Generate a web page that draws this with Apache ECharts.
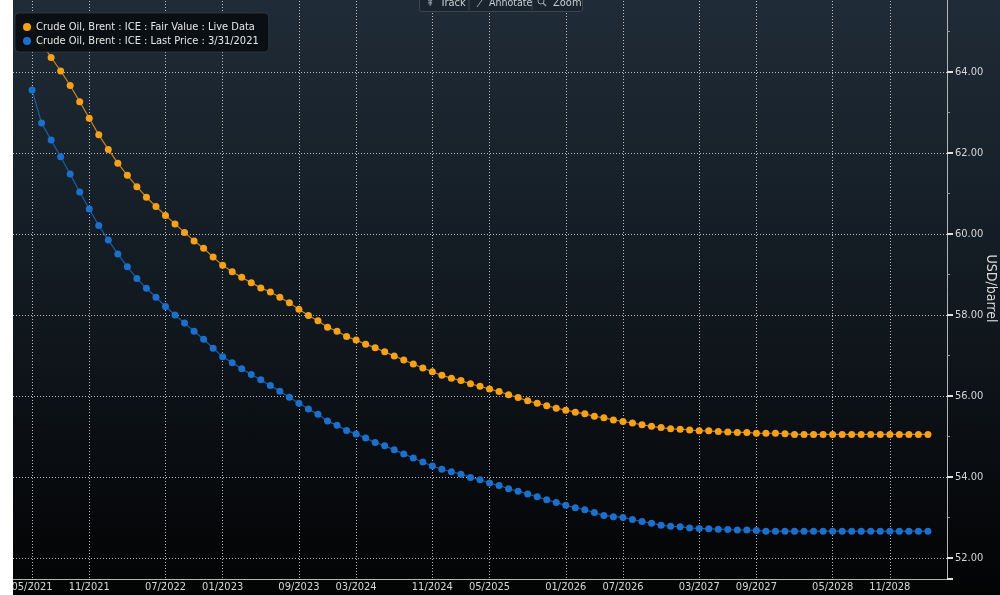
<!DOCTYPE html>
<html>
<head>
<meta charset="utf-8">
<script src="https://cdn.jsdelivr.net/npm/echarts@6/dist/echarts.min.js"></script>
<style>
  html, body { margin: 0; padding: 0; background: #ffffff; width: 1000px; height: 595px; overflow: hidden; }
  #chart { position: absolute; left: 13px; top: 0; width: 987px; height: 595px;
    background: linear-gradient(to bottom, #1f2b36 0%, #17212a 30%, #0f151b 60%, #07090c 85%, #020303 100%); }
</style>
</head>
<body>
<div id="chart"></div>
<script>
// X categories: monthly contract months from 03/2021 to 05/2029
const firstMonth = { m: 3, y: 2021 };
const monthCount = 99;
const months = [];
for (let i = 0; i < monthCount; i++) {
  const t = firstMonth.m - 1 + i;
  const mm = (t % 12) + 1;
  const yy = firstMonth.y + Math.floor(t / 12);
  months.push((mm < 10 ? '0' : '') + mm + '/' + yy);
}

// Bottom tick labels shown
const tickLabels = ['05/2021','11/2021','07/2022','01/2023','09/2023','03/2024','11/2024',
  '05/2025','01/2026','07/2026','03/2027','09/2027','05/2028','11/2028'];

// Series: contract months 05/2021 .. 03/2029
const seriesStart = '05/2021';
const seriesNames = ['Crude Oil, Brent : ICE : Fair Value : Live Data',
                     'Crude Oil, Brent : ICE : Last Price : 3/31/2021'];

const fairValue = [
  65.08, 64.72, 64.36, 64.03, 63.67, 63.27, 62.86, 62.45, 62.09, 61.75,
  61.45, 61.17, 60.91, 60.68, 60.46, 60.25, 60.04, 59.83, 59.65, 59.43,
  59.23, 59.07, 58.93, 58.80, 58.67, 58.57, 58.44, 58.30, 58.14, 57.99,
  57.86, 57.70, 57.60, 57.47, 57.38, 57.28, 57.19, 57.09, 56.99, 56.89,
  56.79, 56.69, 56.60, 56.51, 56.44, 56.38, 56.30, 56.24, 56.17, 56.11,
  56.03, 55.96, 55.88, 55.82, 55.76, 55.70, 55.65, 55.60, 55.56, 55.50,
  55.46, 55.41, 55.37, 55.33, 55.29, 55.25, 55.22, 55.19, 55.18, 55.16,
  55.14, 55.14, 55.12, 55.11, 55.10, 55.10, 55.08, 55.08, 55.08, 55.07,
  55.05, 55.05, 55.05, 55.05, 55.05, 55.05, 55.05, 55.05, 55.05, 55.05,
  55.05, 55.05, 55.05, 55.05, 55.05
];

const lastPrice = [
  63.56, 62.74, 62.32, 61.91, 61.48, 61.04, 60.62, 60.21, 59.85, 59.51,
  59.19, 58.90, 58.66, 58.44, 58.21, 58.00, 57.80, 57.60, 57.40, 57.18,
  56.97, 56.82, 56.67, 56.53, 56.40, 56.26, 56.12, 55.97, 55.82, 55.68,
  55.55, 55.38, 55.28, 55.15, 55.06, 54.96, 54.85, 54.77, 54.67, 54.57,
  54.47, 54.37, 54.27, 54.19, 54.13, 54.07, 53.99, 53.93, 53.85, 53.79,
  53.71, 53.65, 53.58, 53.51, 53.44, 53.37, 53.30, 53.24, 53.19, 53.12,
  53.05, 53.02, 53.00, 52.95, 52.90, 52.86, 52.81, 52.78, 52.77, 52.74,
  52.73, 52.72, 52.71, 52.70, 52.69, 52.69, 52.68, 52.66, 52.66, 52.66,
  52.66, 52.66, 52.66, 52.66, 52.66, 52.66, 52.66, 52.66, 52.66, 52.66,
  52.66, 52.66, 52.66, 52.66, 52.66
];

const offset = months.indexOf(seriesStart);
function pad(arr) {
  const out = [];
  for (let i = 0; i < offset; i++) out.push(null);
  return out.concat(arr);
}

const FONT = "'DejaVu Sans Condensed', 'Liberation Sans Narrow', 'Liberation Sans', sans-serif";
const tickSet = new Set(tickLabels);
const showTick = (idx, val) => tickSet.has(months[idx]);
const gridDots = { type: [1, 2], color: 'rgba(215,215,215,0.85)', width: 1 };

const chart = echarts.init(document.getElementById('chart'), null, { renderer: 'canvas' });
chart.setOption({
  animation: false,
  backgroundColor: 'transparent',
  grid: { left: 0, right: 53, top: -2, bottom: 16, containLabel: false, outerBoundsMode: 'none' },
  legend: {
    orient: 'vertical', left: 2, top: 13,
    padding: [8, 10, 5, 8],
    backgroundColor: 'rgba(10,14,18,0.94)',
    borderColor: 'rgba(70,80,90,0.5)', borderWidth: 1, borderRadius: 4,
    itemWidth: 8, itemHeight: 8, itemGap: 2, icon: 'circle',
    textStyle: { color: '#e6e6e6', fontSize: 11, fontFamily: FONT, lineHeight: 12 },
    data: seriesNames
  },
  xAxis: {
    type: 'category', data: months, boundaryGap: false,
    axisLine: { show: true, lineStyle: { color: '#b5b5b5', width: 1 } },
    axisTick: { show: true, interval: showTick, length: 4, lineStyle: { color: '#cfcfcf', type: [1, 2] } },
    axisLabel: { interval: showTick, color: '#d6d6d6', fontSize: 11, fontFamily: FONT, margin: 3 },
    splitLine: { show: true, interval: showTick, lineStyle: gridDots }
  },
  yAxis: {
    type: 'value', position: 'right', min: 51.48, max: 65.83, splitNumber: 7,
    axisLine: { show: true, lineStyle: { color: '#b5b5b5', width: 1 } },
    axisTick: { show: true, length: 6, lineStyle: { color: '#e0e0e0', width: 2 } },
    minorTick: { show: true, splitNumber: 2, length: 3, lineStyle: { color: '#9a9a9a', width: 1 } },
    axisLabel: { color: '#d6d6d6', fontSize: 11, fontFamily: FONT, margin: 8,
      showMinLabel: false, showMaxLabel: false, formatter: v => v.toFixed(2) },
    splitLine: { show: true, lineStyle: gridDots },
    name: 'USD/barrel', nameLocation: 'middle', nameRotate: -90, nameGap: 37,
    nameMoveOverlap: false,
    nameTextStyle: { color: '#dcdcdc', fontSize: 14, fontFamily: "'DejaVu Sans Condensed', 'Liberation Sans', sans-serif" }
  },
  series: [
    {
      name: seriesNames[0], type: 'line', data: pad(fairValue),
      symbol: 'circle', symbolSize: 7, showSymbol: true, showAllSymbol: true,
      itemStyle: { color: '#f7a01a' },
      lineStyle: { color: '#c8841a', width: 1.2 },
      z: 3
    },
    {
      name: seriesNames[1], type: 'line', data: pad(lastPrice),
      symbol: 'circle', symbolSize: 7, showSymbol: true, showAllSymbol: true,
      itemStyle: { color: '#1c6fcb' },
      lineStyle: { color: '#1a5ca6', width: 1.2 },
      z: 3
    }
  ],
  graphic: [
    { type: 'rect', left: 406, top: -12, shape: { width: 163, height: 23, r: 2 },
      style: { fill: '#1a242e', stroke: '#3b4651', lineWidth: 1 }, z: 10 },
    { type: 'line', shape: { x1: 456, y1: 0, x2: 456, y2: 10 }, style: { stroke: '#3b4651' }, z: 11 },
    { type: 'line', shape: { x1: 519, y1: 0, x2: 519, y2: 10 }, style: { stroke: '#3b4651' }, z: 11 },
    { type: 'text', x: 413, y: 3, style: { text: '⇞', fill: '#9aa3ab', fontSize: 10, fontFamily: "'DejaVu Sans', sans-serif", verticalAlign: 'middle' }, z: 11 },
    { type: 'text', x: 427, y: 3, style: { text: 'Track', fill: '#c9cdd1', fontSize: 11, fontFamily: FONT, verticalAlign: 'middle' }, z: 11 },
    { type: 'line', shape: { x1: 464, y1: 7, x2: 469, y2: 0 }, style: { stroke: '#9aa3ab', lineWidth: 1 }, z: 11 },
    { type: 'text', x: 476, y: 3, style: { text: 'Annotate', fill: '#c9cdd1', fontSize: 10.5, fontFamily: FONT, verticalAlign: 'middle' }, z: 11 },
    { type: 'circle', shape: { cx: 528, cy: 1, r: 3 }, style: { fill: 'none', stroke: '#9aa3ab', lineWidth: 1 }, z: 11 },
    { type: 'line', shape: { x1: 530, y1: 3, x2: 533, y2: 6 }, style: { stroke: '#9aa3ab', lineWidth: 1.2 }, z: 11 },
    { type: 'text', x: 540, y: 3, style: { text: 'Zoom', fill: '#c9cdd1', fontSize: 11, fontFamily: FONT, verticalAlign: 'middle' }, z: 11 }
  ]
});
</script>
</body>
</html>
